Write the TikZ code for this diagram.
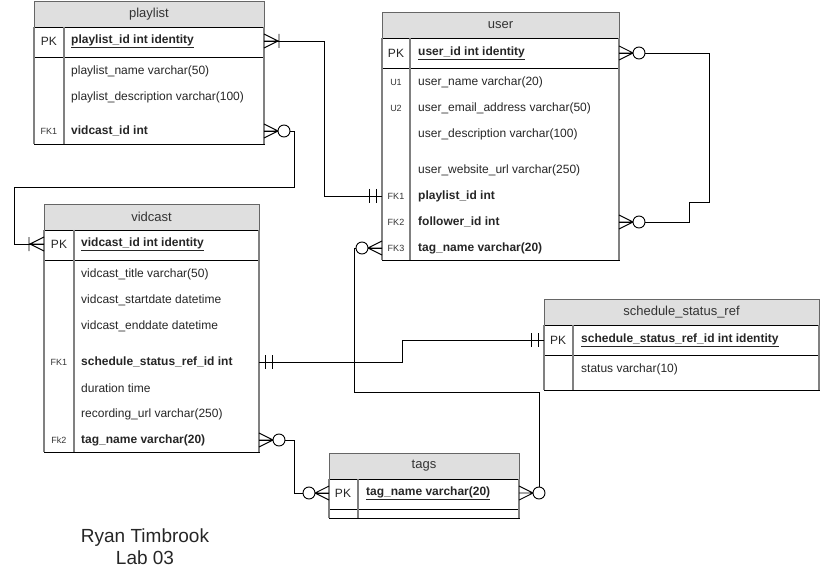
\documentclass[tikz,border=0pt]{standalone}
\usepackage{fontspec}
\setmainfont{Liberation Sans}
\usetikzlibrary{positioning}

\tikzset{
  tblhead/.style={draw=gray!80!black, fill=gray!25, line width=0.8pt, minimum height=26pt,
    inner sep=0pt, outer sep=0pt, text=black!80, font=\fontsize{13}{15}\selectfont},
  tblrow/.style={draw=black, line width=0.8pt, inner sep=0pt, outer sep=0pt},
  sideline/.style={draw=gray, line width=1.7pt},
  field/.style={anchor=west, inner sep=0pt, text=black!85, font=\fontsize{12}{14}\selectfont},
  keyfld/.style={field, font=\fontsize{12}{14}\selectfont\bfseries},
  keytag/.style={inner sep=0pt, text=black!80, font=\fontsize{9}{11}\selectfont},
  pktag/.style={inner sep=0pt, text=black!85, font=\fontsize{12}{14}\selectfont},
  conn/.style={draw=black, line width=0.9pt},
  % ends of the relations
  zeromany/.pic={
    \draw[conn] (0,-7) -- (14,0) -- (0,7) (0,0) -- (14,0);
    \draw[conn, fill=white] (20,0) circle[radius=6pt];
  },
  onemany/.pic={
    \draw[conn] (0,-7) -- (14,0) -- (0,7) (0,0) -- (15,0) (15,-7) -- (15,7);
  },
  onlyone/.pic={
    \draw[conn] (6,-7) -- (6,7) (13,-7) -- (13,7);
  },
}

\begin{document}
\begin{tikzpicture}[x=1pt, y=-1pt]
    \useasboundingbox (0,0) rectangle (820,575);

    % --- playlist ---
    \node[tblhead, minimum width=230pt, anchor=north west] (playlist) at (34,1) {playlist};
    \node[tblrow, minimum width=230pt, minimum height=30pt, below=0pt of playlist] (playlist-pk) {};
    \node[tblrow, minimum width=230pt, minimum height=87pt, below=0pt of playlist-pk] (playlist-body) {};
    \draw[sideline] (playlist-pk.north west) -- (playlist-body.south west) (playlist-pk.north east) -- (playlist-body.south east)
        ([xshift=30pt]playlist-pk.north west) -- ([xshift=30pt]playlist-body.south west);
    \node[pktag] at (49,41) {PK};
    \node[keyfld] (pl-id) at (71,41) {\underline{playlist\_id int identity}};
    \node[field] (pl-name) at (71,71) {playlist\_name varchar(50)};
    \node[field] (pl-desc) at (71,97) {playlist\_description varchar(100)};
    \node[keytag] at (49,131) {FK1};
    \node[keyfld] (pl-fk1) at (71,131) {vidcast\_id int};

    % --- user ---
    \node[tblhead, minimum width=237pt, anchor=north west] (user) at (382,12) {user};
    \node[tblrow, minimum width=237pt, minimum height=30pt, below=0pt of user] (user-pk) {};
    \node[tblrow, minimum width=237pt, minimum height=192pt, below=0pt of user-pk] (user-body) {};
    \draw[sideline] (user-pk.north west) -- (user-body.south west) (user-pk.north east) -- (user-body.south east)
        ([xshift=28pt]user-pk.north west) -- ([xshift=28pt]user-body.south west);
    \node[pktag] at (396,53) {PK};
    \node[keyfld] (us-id) at (418,53) {\underline{user\_id int identity}};
    \node[keytag] at (396,82) {U1};
    \node[field] (us-name) at (418,82) {user\_name varchar(20)};
    \node[keytag] at (396,108) {U2};
    \node[field] (us-mail) at (418,108) {user\_email\_address varchar(50)};
    \node[field] (us-desc) at (418,134) {user\_description varchar(100)};
    \node[field] (us-web) at (418,170) {user\_website\_url varchar(250)};
    \node[keytag] at (396,196) {FK1};
    \node[keyfld] (us-fk1) at (418,196) {playlist\_id int};
    \node[keytag] at (396,222) {FK2};
    \node[keyfld] (us-fk2) at (418,222) {follower\_id int};
    \node[keytag] at (396,248) {FK3};
    \node[keyfld] (us-fk3) at (418,248) {tag\_name varchar(20)};

    % --- vidcast ---
    \node[tblhead, minimum width=215pt, anchor=north west] (vidcast) at (44,204) {vidcast};
    \node[tblrow, minimum width=215pt, minimum height=30pt, below=0pt of vidcast] (vidcast-pk) {};
    \node[tblrow, minimum width=215pt, minimum height=192pt, below=0pt of vidcast-pk] (vidcast-body) {};
    \draw[sideline] (vidcast-pk.north west) -- (vidcast-body.south west) (vidcast-pk.north east) -- (vidcast-body.south east)
        ([xshift=30pt]vidcast-pk.north west) -- ([xshift=30pt]vidcast-body.south west);
    \node[pktag] at (59,244) {PK};
    \node[keyfld] (vc-id) at (81,244) {\underline{vidcast\_id int identity}};
    \node[field] (vc-title) at (81,274) {vidcast\_title varchar(50)};
    \node[field] (vc-start) at (81,300) {vidcast\_startdate datetime};
    \node[field] (vc-end) at (81,326) {vidcast\_enddate datetime};
    \node[keytag] at (59,362) {FK1};
    \node[keyfld] (vc-fk1) at (81,362) {schedule\_status\_ref\_id int};
    \node[field] (vc-dur) at (81,388) {duration time};
    \node[field] (vc-url) at (81,414) {recording\_url varchar(250)};
    \node[keytag] at (59,440) {Fk2};
    \node[keyfld] (vc-fk2) at (81,440) {tag\_name varchar(20)};

    % --- schedule_status_ref ---
    \node[tblhead, minimum width=275pt, anchor=north west] (status) at (544,299) {schedule\_status\_ref};
    \node[tblrow, minimum width=275pt, minimum height=30pt, below=0pt of status] (status-pk) {};
    \node[tblrow, minimum width=275pt, minimum height=35pt, below=0pt of status-pk] (status-body) {};
    \draw[sideline] (status-pk.north west) -- (status-body.south west) (status-pk.north east) -- (status-body.south east)
        ([xshift=29pt]status-pk.north west) -- ([xshift=29pt]status-body.south west);
    \node[pktag] at (558,340) {PK};
    \node[keyfld] (st-id) at (581,340) {\underline{schedule\_status\_ref\_id int identity}};
    \node[field] (st-val) at (581,369) {status varchar(10)};

    % --- tags ---
    \node[tblhead, minimum width=190pt, anchor=north west] (tags) at (329,453) {tags};
    \node[tblrow, minimum width=190pt, minimum height=30pt, below=0pt of tags] (tags-pk) {};
    \node[tblrow, minimum width=190pt, minimum height=9pt, below=0pt of tags-pk] (tags-body) {};
    \draw[sideline] (tags-pk.north west) -- (tags-body.south west) (tags-pk.north east) -- (tags-body.south east)
        ([xshift=29pt]tags-pk.north west) -- ([xshift=29pt]tags-body.south west);
    \node[pktag] at (343,493) {PK};
    \node[keyfld] (tg-id) at (366,493) {\underline{tag\_name varchar(20)}};

    % --- Relazioni ---
    \draw[conn] (pl-id -| playlist.east) -- ++(60,0) |- (us-fk1 -| user.west);
    \draw[conn] (pl-fk1 -| playlist.east) -| (294,187) -- (14,187) |- (vc-id -| vidcast.west);
    \draw[conn] (us-id -| user.east) -| (709,202) -- (689,202) |- (us-fk2 -| user.east);
    \draw[conn] (us-fk3 -| user.west) -| (354,392) -| ([xshift=20pt]tg-id -| tags.east);
    \draw[conn] (vc-fk1 -| vidcast.east) -- ++(143,0) |- (st-id -| status.west);
    \draw[conn] (vc-fk2 -| vidcast.east) -- ++(35,0) |- (tg-id -| tags.west);

    \pic at (pl-id -| playlist.east) {onemany};
    \pic at (pl-fk1 -| playlist.east) {zeromany};
    \pic[xscale=-1] at (us-fk1 -| user.west) {onlyone};
    \pic[xscale=-1] at (vc-id -| vidcast.west) {onemany};
    \pic at (us-id -| user.east) {zeromany};
    \pic at (us-fk2 -| user.east) {zeromany};
    \pic[xscale=-1] at (us-fk3 -| user.west) {zeromany};
    \pic at (tg-id -| tags.east) {zeromany};
    \pic at (vc-fk1 -| vidcast.east) {onlyone};
    \pic[xscale=-1] at (st-id -| status.west) {onlyone};
    \pic at (vc-fk2 -| vidcast.east) {zeromany};
    \pic[xscale=-1] at (tg-id -| tags.west) {zeromany};

    % --- Autore ---
    \node[align=center, text=black!85, font=\fontsize{19}{22}\selectfont] (author) at (145,547) {Ryan Timbrook\\Lab 03};
\end{tikzpicture}
\end{document}
